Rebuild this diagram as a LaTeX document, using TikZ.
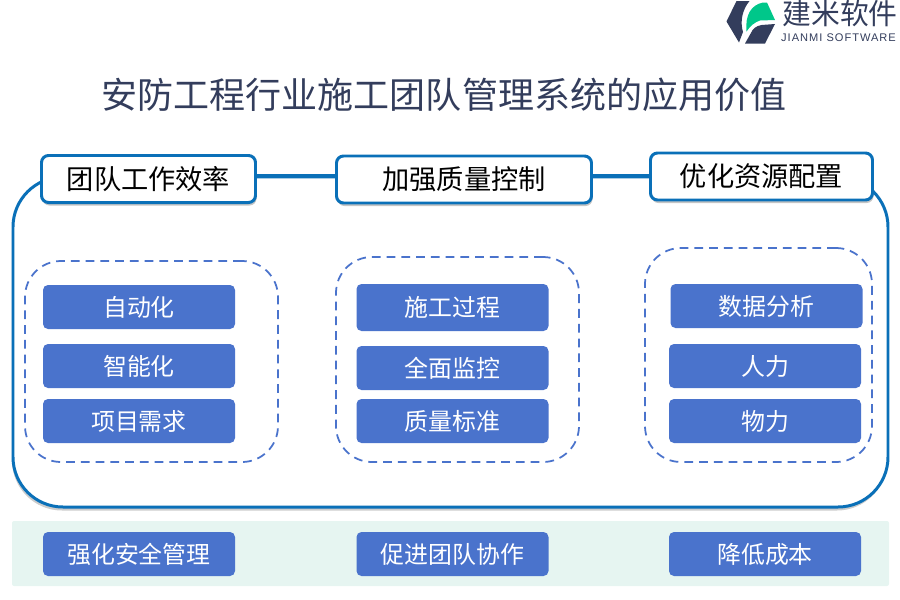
\documentclass[tikz,border=0pt]{standalone}
\usepackage{fontspec}
\setmainfont{Noto Sans CJK SC}
\newfontfamily\logofont[LetterSpace=9]{Liberation Sans}
\usetikzlibrary{shadows}
\definecolor{framecol}{HTML}{0A70B8}
\definecolor{itemcol}{HTML}{4A73CC}
\definecolor{inkcol}{HTML}{333D5C}
\definecolor{bandcol}{HTML}{E6F5F1}
\definecolor{leafcol}{HTML}{00C78A}
\begin{document}
\begin{tikzpicture}[
  panel/.style={
    draw=framecol,
    line width=1.7pt,
    rounded corners=1cm,
    fill=white,
    minimum width=17.5cm,
    minimum height=6.6cm,
    drop shadow={shadow xshift=-0.02cm,shadow yshift=-0.07cm,opacity=0.4}
  },
  heading/.style={
    draw=framecol,
    line width=1.7pt,
    rounded corners=0.14cm,
    fill=white,
    text=black,
    font=\fontsize{15.5}{18}\selectfont,
    inner sep=0pt,
    drop shadow={shadow xshift=0.02cm,shadow yshift=-0.06cm,opacity=0.45}
  },
  group/.style={
    draw=itemcol,
    line width=1pt,
    dash pattern=on 5pt off 3.4pt,
    rounded corners=0.72cm,
    inner sep=0pt
  },
  item/.style={
    fill=itemcol,
    rounded corners=0.1cm,
    text=white,
    minimum width=3.84cm,
    minimum height=0.88cm,
    inner sep=0pt,
    font=\fontsize{13.6}{16}\selectfont
  },
  link/.style={draw=framecol, line width=1.7pt}
]
\useasboundingbox (0,0) rectangle (18,-12);

% logo
\fill[inkcol] (14.53,-0.43) -- (14.73,-0.02) -- (14.99,-0.02) .. controls (14.84,-0.2) and (14.8,-0.44) .. (14.86,-0.64) -- (14.78,-0.85) -- cycle;
\fill[leafcol] (14.93,-0.63) .. controls (14.9,-0.3) and (15.02,-0.1) .. (15.26,-0.05) -- (15.34,-0.05) -- (15.5,-0.4) -- (15.2,-0.41) .. controls (15.1,-0.44) and (15,-0.52) .. (14.93,-0.63) -- cycle;
\fill[inkcol] (14.9,-0.87) -- (15.3,-0.87) -- (15.5,-0.48) -- (15.23,-0.5) .. controls (15.12,-0.52) and (15.05,-0.58) .. (15.03,-0.64) -- cycle;
\node[text=inkcol, inner sep=0pt, font=\fontsize{16.4}{18}\selectfont] (brand) at (16.8,-0.28) {建米软件};
\node[text=inkcol, inner sep=0pt, font=\fontsize{6.3}{8}\logofont] (brandsub) at (16.77,-0.76) {JIANMI SOFTWARE};

% title
\node[text=inkcol, inner sep=0pt, font=\fontsize{20.5}{24}\selectfont] (title) at (8.88,-1.9) {安防工程行业施工团队管理系统的应用价值};

% bottom band
\fill[bandcol, rounded corners=0.04cm] (0.24,-10.42) rectangle (17.78,-11.72);

% frame
\node[panel] (frame) at (9.01,-6.84) {};

% headings
\node[heading, minimum width=4.28cm, minimum height=0.94cm] (h1) at (2.97,-3.58) {团队工作效率};
\node[heading, minimum width=5.1cm, minimum height=0.94cm] (h2) at (9.28,-3.59) {加强质量控制};
\node[heading, minimum width=4.44cm, minimum height=0.94cm] (h3) at (15.23,-3.53) {优化资源配置};
\draw[link] (frame.north -| h1.east) -- (frame.north -| h2.west);
\draw[link] (frame.north -| h2.east) -- (frame.north -| h3.west);

% dashed groups
\node[group, minimum width=5.06cm, minimum height=4.02cm] (g1) at (3.03,-7.23) {};
\node[group, minimum width=4.86cm, minimum height=4.1cm] (g2) at (9.15,-7.19) {};
\node[group, minimum width=4.54cm, minimum height=4.28cm] (g3) at (15.17,-7.1) {};

% items
\node[item] (a1) at (2.78,-6.14) {自动化};
\node[item] (a2) at (2.78,-7.32) {智能化};
\node[item] (a3) at (2.78,-8.42) {项目需求};
\node[item, minimum height=0.94cm] (b1) at (9.05,-6.15) {施工过程};
\node[item] (b2) at (9.05,-7.36) {全面监控};
\node[item] (b3) at (9.05,-8.42) {质量标准};
\node[item] (c1) at (15.33,-6.12) {数据分析};
\node[item] (c2) at (15.3,-7.32) {人力};
\node[item] (c3) at (15.3,-8.42) {物力};

% bottom row
\node[item] (d1) at (2.78,-11.08) {强化安全管理};
\node[item] (d2) at (9.05,-11.08) {促进团队协作};
\node[item] (d3) at (15.3,-11.08) {降低成本};
\end{tikzpicture}
\end{document}
